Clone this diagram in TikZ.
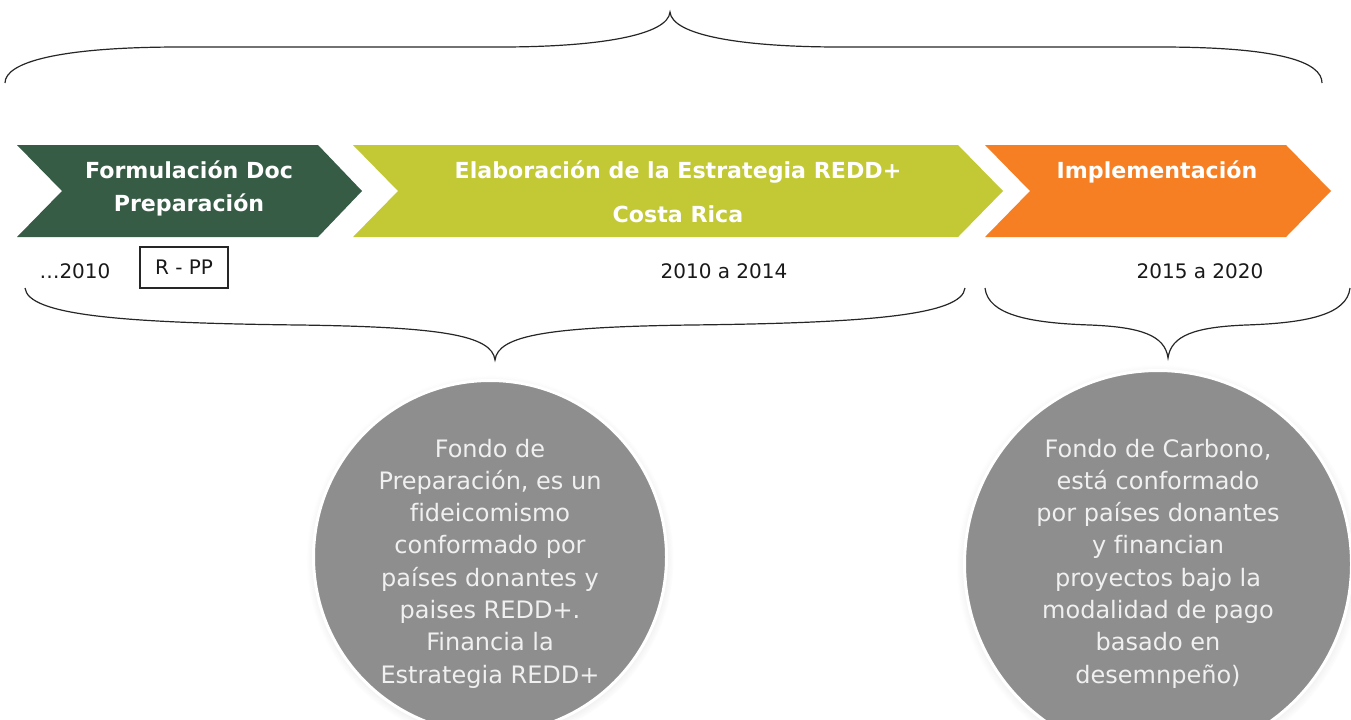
\documentclass[tikz,border=0pt]{standalone}
\usepackage{fontspec}
\setmainfont{DejaVu Sans}[Ligatures=NoCommon]
\usetikzlibrary{shadows}
\tikzset{every picture/.style={line width=0.75pt}}
\definecolor{verdeOsc}{RGB}{55,92,70}
\definecolor{verdeLim}{RGB}{194,201,52}
\definecolor{naranja}{RGB}{245,127,34}
\definecolor{grisCirc}{RGB}{142,142,142}

\begin{document}
\begin{tikzpicture}[x=0.75pt,y=0.75pt,yscale=-1,xscale=1,
  llave/.style={draw=black!85, line width=0.9pt},
  chevtxt/.style={anchor=base, inner sep=0.75pt, text=white, font=\fontsize{16.6}{20}\selectfont\bfseries},
  fecha/.style={anchor=base, inner sep=0.75pt, text=black!90, font=\fontsize{15}{18}\selectfont},
  fondo/.style={circle, fill=grisCirc, draw=white, line width=2.25pt, inner sep=0pt,
    circular drop shadow={shadow xshift=0pt, shadow yshift=-1.5pt, shadow scale=1.04, opacity=0.35}},
  fondotxt/.style={anchor=base, inner sep=0.75pt, text=black!6, font=\fontsize{18}{22}\selectfont}]
\useasboundingbox (0,0) rectangle (1351,719);
\clip (0,0) rectangle (1351,719);

%Curve Lines: top brace
\draw [llave] (5,83) .. controls (5,62) and (60,47) .. (180,47) -- (500,47) .. controls (600,47) and (668,35) .. (670,12) .. controls (672,35) and (740,47) .. (840,47) -- (1160,47) .. controls (1280,47) and (1322,62) .. (1322,83) ;

%Shape: chevrons
\fill [verdeOsc] (17,145) -- (318,145) -- (362,191) -- (318,237) -- (17,237) -- (62,191) -- cycle ;
\fill [verdeLim] (353,145) -- (958,145) -- (1003,191) -- (958,237) -- (353,237) -- (398,191) -- cycle ;
\fill [naranja] (985,145) -- (1286,145) -- (1331,191) -- (1286,237) -- (985,237) -- (1030,191) -- cycle ;

% Text Node
\node [chevtxt] (form1) at (189,178) {Formulación Doc};
\node [chevtxt] (form2) at (189,211) {Preparación};
\node [chevtxt] (elab1) at (678,178) {Elaboración de la Estrategia REDD+};
\node [chevtxt] (elab2) at (678,222) {Costa Rica};
\node [chevtxt] (impl) at (1157,178) {Implementación};

% Text Node: dates
\node [fecha, anchor=base west] (ini) at (38,278) {…2010};
\node [fecha, anchor=center, draw=black!85, line width=0.9pt, minimum width=66pt, minimum height=30.75pt] (rpp) at (184,267.5) {R - PP};
\node [fecha] (per1) at (724,278) {2010 a 2014};
\node [fecha] (per2) at (1200,278) {2015 a 2020};

%Curve Lines: lower braces
\draw [llave] (25,288) .. controls (28,315) and (120,323) .. (300,325) .. controls (440,327) and (492,335) .. (495,360) .. controls (498,335) and (550,327) .. (690,325) .. controls (870,323) and (962,315) .. (965,288) ;
\draw [llave] (985,288) .. controls (988,315) and (1030,323) .. (1090,325) .. controls (1140,327) and (1165,335) .. (1168,358) .. controls (1171,335) and (1196,327) .. (1246,325) .. controls (1306,323) and (1347,315) .. (1350,288) ;

%Shape: Circles
\node [fondo, minimum size=264.75pt] (prep) at (490,557) {};
\node [fondo, minimum size=290.25pt] (carb) at (1158,564) {};

% Text Node: circle texts
\foreach \lin [count=\i] in {Fondo de, {Preparación, es un}, fideicomismo, conformado por, países donantes y, paises REDD+., Financia la, Estrategia REDD+}
  \node [fondotxt] (prep-\i) at (490,{457+32.3*(\i-1)}) {\lin};
\foreach \lin [count=\i] in {{Fondo de Carbono,}, está conformado, por países donantes, y financian, proyectos bajo la, modalidad de pago, basado en, desemnpeño)}
  \node [fondotxt] (carb-\i) at (1158,{457+32.3*(\i-1)}) {\lin};

\end{tikzpicture}
\end{document}
